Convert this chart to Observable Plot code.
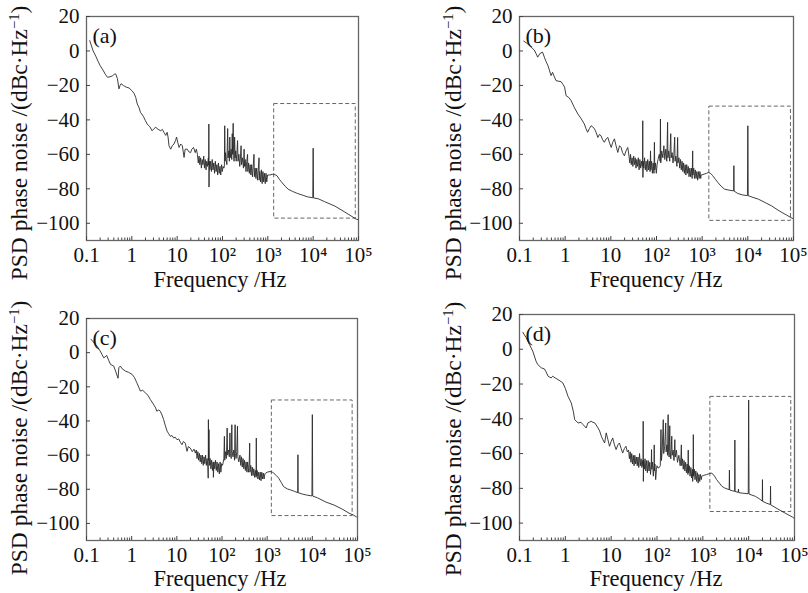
<!DOCTYPE html>
<html><head><meta charset="utf-8">
<script src="https://cdn.jsdelivr.net/npm/d3@7"></script>
<script src="https://cdn.jsdelivr.net/npm/@observablehq/plot@0.6"></script>
<style>
body{margin:0;background:#fff;}
#chart{position:relative;width:808px;height:593px;background:#fff;overflow:hidden;}
#chart svg{position:absolute;font-family:"Liberation Serif","DejaVu Serif",serif !important;}
#chart svg text{font-family:"Liberation Serif","DejaVu Serif",serif !important;}
.ttl{position:absolute;white-space:nowrap;font-family:"Liberation Serif","DejaVu Serif",serif;color:#111;line-height:0.8;transform:translate(-50%,-50%);}
.ttl.rot{transform:translate(-50%,-50%) rotate(-90deg);}
.ttl sup{font-size:0.62em;vertical-align:0.5em;line-height:0;}
</style></head><body><div id="chart"></div>
<script>
// ---- tick labels & texts ----
const xTickValues = [0.1, 1, 10, 100, 1000, 10000, 100000];
const xTickLabels = ["0.1", "1", "10", "10²", "10³", "10⁴", "10⁵"];
const yTickValues = [-100, -80, -60, -40, -20, 0, 20];
const panelLabels = ["(a)", "(b)", "(c)", "(d)"];
const xTitle = "Frequency /Hz";
const yTitleMain = "PSD phase noise /(dBc·Hz";
const yTitleSup = "−1";
const yTitleEnd = ")";

// ---- series: [frequency Hz, PSD dBc/Hz] ----
const seriesA = [
[0.118,6],[0.14,0],[0.16,-3],[0.18,-6],[0.2,-8.5],[0.23,-11],[0.26,-13.5],[0.29,-15.3],[0.33,-15],[0.37,-14.5],[0.41,-13.5],[0.44,-13.3],[0.48,-16],[0.52,-22],[0.55,-20],[0.58,-19],[0.65,-20],[0.75,-21],[0.87,-21.5],[1.0,-23],[1.12,-24.6],[1.22,-27],[1.32,-30.8],[1.45,-33],[1.55,-35.6],[1.8,-38],[2.0,-40.5],[2.18,-42.4],[2.5,-44],[2.8,-46.3],[3.1,-45],[3.37,-44.3],[3.8,-45.5],[4.35,-46.3],[4.7,-45.5],[5.1,-47.2],[5.6,-49],[6.0,-47.2],[6.3,-50],[6.6,-55],[7.2,-57],[7.8,-55],[8.5,-54],[9.2,-52],[9.7,-50],[10.3,-53],[11,-56],[12,-54],[13,-55],[14.2,-61.8],[15,-57],[16.7,-57],[18,-58.5],[19.8,-59],[21,-57],[23,-56],[25,-59],[26.5,-57],
[28,-60],[29.2,-65],[30.4,-61],[31.6,-66],[32.9,-62],[34.2,-68],[35.6,-63],[37,-66],[38.5,-61],[40,-68],[41.6,-63],[43.3,-69],[45,-64],[46.8,-67],[48.7,-62],[49.6,-66],[50,-42.4],[50.4,-79],[51,-64],[52.7,-69],[54.8,-64],[57,-70],[59.3,-63],[61.7,-69],[64.2,-65],[66.8,-71],[69.5,-64],[72.3,-70],[75.2,-66],[78.2,-72],[81.3,-65],[84.6,-71],[88,-67],[91.5,-72],[95.2,-66],[99,-70],[103,-67],[107,-68],[110,-67],
[112,-43.4],[114,-64],[117,-59],[120,-63],[125,-66],[130,-45],[133,-62],[138,-58],[142,-64],[145,-50],[148,-62],[155,-57],[160,-63],[164,-48],[167,-60],[172,-42],[175,-58],[180,-64],[185,-50],[190,-62],[195,-58],[200,-64],[207,-60],[215,-52],[220,-64],[230,-60],[240,-67],[250,-61],[257,-55],[262,-66],[275,-62],[290,-68],
[300,-57],[305,-67],[317,-63],[330,-70],[343,-64],[357,-60],[362,-70],[376,-65],[391,-71],[407,-66],[423,-72],[440,-66],[458,-73],[476,-67],[495,-60],[505,-73],[525,-68],[546,-74],[568,-68],[591,-75],[615,-69],[640,-62],[645,-75],[665,-70],[692,-76],[720,-69],[749,-77],[779,-70],[810,-76],[842,-71],[876,-77],[911,-71],[947,-76],[985,-72],
[1100,-72],[1250,-71.6],[1380,-71.5],[1600,-72.5],[1800,-74.5],[2000,-76],[2400,-78.5],[2800,-80.2],[3500,-81.5],[4500,-82.7],[6000,-83.8],[7600,-84.7],[9800,-85.2],[10000,-56.4],[10200,-85.3],[13000,-85.8],[18000,-87.5],[30000,-90],[50000,-93.5],[89000,-97.6],[100000,-98]
];
const seriesB = [
[0.124,5.7],[0.145,4.5],[0.166,3.1],[0.19,1.5],[0.21,0.6],[0.23,-1.5],[0.25,-3.6],[0.28,-1.5],[0.32,-0.7],[0.35,-3.6],[0.38,-6],[0.42,-8.5],[0.45,-11],[0.49,-14.3],[0.53,-12.4],[0.58,-15],[0.63,-17.2],[0.7,-17.5],[0.81,-17.8],[0.9,-19.5],[0.97,-21],[1.05,-26],[1.2,-27],[1.35,-28.8],[1.6,-33],[1.9,-36.6],[2.2,-39],[2.63,-42.4],[2.85,-45],[3.1,-47.2],[3.4,-45],[3.7,-43.4],[4.0,-44],[4.4,-45.3],[4.8,-47.5],[5.2,-50.2],[5.6,-48.5],[6.1,-49.2],[6.6,-51.5],[7.2,-53],[7.9,-51],[8.6,-50.2],[9.4,-53.5],[10.2,-56],[11,-53],[12,-51],[13,-55],[14.2,-58.9],[15.5,-55],[16.8,-56],[18,-59],[19.8,-60.8],[21.5,-58],[23.5,-56],
[25,-61],[26,-65],[27,-60],[28,-66],[29.2,-62],[30.4,-67],[31.6,-61],[32.9,-66],[34.2,-62],[35.6,-68],[37,-63],[38.5,-67],[40,-62],[41.6,-69],[43.3,-63],[45,-68],[46.8,-64],[48.7,-67],[49.6,-63],[50,-40.5],[50.4,-73.4],[51,-64],[52.7,-68],[54.8,-62],[57,-69],[59.3,-64],[61.7,-70],[64.2,-63],[66.8,-69],[69.5,-64],[72.3,-70],[74,-58],[75.2,-69],[78.2,-64],[81.3,-71],[84.6,-65],[88,-71],[90,-53],[91.5,-69],[95.2,-65],[99,-71],[103,-66],
[108,-63],[115,-60],[120,-64],[122,-39.5],[124,-65],[130,-58],[138,-62],[145,-55],[152,-63],[160,-57],[168,-64],[175,-41.4],[178,-62],[185,-58],[195,-64],[205,-48],[210,-62],[220,-59],[230,-65],[240,-60],[250,-50],[255,-64],[265,-61],[280,-67],[290,-50.2],[295,-65],
[310,-62],[322,-68],[335,-63],[349,-69],[363,-64],[377,-70],[392,-65],[408,-71],[424,-66],[441,-72],[459,-66],[477,-71],[496,-67],[516,-73],[537,-68],[558,-73],[581,-68],[604,-74],[620,-58],[628,-72],[653,-68],[679,-74],[706,-69],[735,-74],[764,-70],[795,-75],[826,-70],[859,-74],[894,-70],[930,-74],[950,-72],
[1100,-71.5],[1250,-71],[1400,-70.5],[1550,-71.2],[1700,-72.4],[1950,-74.5],[2200,-76.3],[2600,-78.5],[3100,-80.2],[3900,-80.8],[4900,-81.2],[4950,-66.6],[5000,-81.3],[6000,-82.7],[7500,-83.5],[9800,-84],[10000,-43.4],[10200,-84],[13000,-85],[17000,-86],[24000,-88],[33000,-89.9],[50000,-93],[70000,-95.2],[88000,-96.7],[100000,-97.5]
];
const seriesC = [
[0.126,7.8],[0.15,5.5],[0.17,3.9],[0.2,1],[0.22,-1],[0.24,-3],[0.26,-2.5],[0.28,-1.6],[0.31,-4.5],[0.34,-6.9],[0.4,-7.8],[0.44,-10.8],[0.48,-13.7],[0.5,-15],[0.52,-8.8],[0.56,-7.8],[0.62,-9.5],[0.73,-10.8],[0.85,-11.5],[1.02,-12.7],[1.15,-14.5],[1.3,-17.6],[1.45,-20.5],[1.56,-22.5],[1.75,-22],[2.0,-23.5],[2.3,-25],[2.6,-27.5],[3.0,-30],[3.4,-32.4],[3.6,-34.3],[4.0,-33.5],[4.3,-34.3],[4.7,-36.5],[5.1,-39.2],[5.6,-43],[6.1,-46],[6.6,-47.5],[7.2,-49],[7.8,-48.5],[8.5,-50],[9.2,-49.5],[10.1,-51],[11,-50.5],[12,-52.5],[13,-53.9],[14,-52],[15.4,-53],[16.8,-57.8],[18,-55],[19.9,-55.9],[22,-58],[24,-56.5],[25.7,-58.8],
[27,-57],[28,-62],[29.2,-58],[30.4,-63],[31.6,-59],[32.9,-64],[34.2,-60],[35.6,-65],[37,-60],[38.5,-66],[40,-61],[41.6,-65],[43.3,-60],[45,-66],[46.8,-62],[48.7,-67],[49.5,-73.5],[50,-39.2],[50.5,-63],[51.5,-45.1],[52.5,-66],[54.6,-62],[56.8,-68],[59,-63],[61.4,-69],[63.9,-64],[64.5,-73],[66.4,-64],[69,-68],[71.8,-63],[74.7,-69],[77.7,-64],[80.8,-70],[84,-65],[87.4,-71],[90.9,-64],[94.5,-70],[98.3,-65],[102,-66],
[105,-65],[110,-62],[113,-49],[115,-63],[120,-58],[125,-62],[130,-44.1],[133,-60],[140,-57],[145,-61],[150,-47],[153,-59],[160,-62],[165,-42.2],[168,-58],[175,-61],[182,-57],[190,-63],[195,-42.2],[198,-59],[205,-62],[212,-58],[220,-43],[224,-61],[235,-64],
[250,-60],[260,-66],[270,-61],[281,-67],[292,-62],[304,-68],[316,-63],[329,-69],[342,-64],[356,-70],[370,-64],[385,-70],[400,-65],[410,-53],[416,-70],[433,-66],[450,-72],[468,-67],[487,-72],[506,-68],[526,-73],[547,-69],[569,-73],[575,-50],[580,-72],[600,-69],[624,-74],[649,-70],[675,-74.5],[702,-70],[730,-75],[759,-70],[789,-74],[821,-70.5],[854,-74],[888,-71],[920,-70.6],
[1000,-70],[1160,-69.6],[1300,-70],[1400,-70.6],[1600,-72],[1800,-73.5],[2050,-76],[2300,-78.4],[2800,-79.8],[3300,-80.4],[4000,-81.2],[4750,-82],[4800,-59.8],[4850,-82],[6000,-82.8],[7500,-83.4],[9800,-83.9],[10000,-36.3],[10200,-84],[13000,-85],[20000,-87.5],[30000,-89.2],[45000,-91.5],[65000,-94],[81000,-95.1],[95000,-96.2]
];
const seriesD = [
[0.118,9.8],[0.14,6.6],[0.165,2.7],[0.195,-1.1],[0.23,-6.9],[0.25,-8.8],[0.3,-10.7],[0.35,-11.3],[0.38,-13],[0.42,-15.5],[0.49,-16.5],[0.53,-15.5],[0.6,-16.5],[0.69,-17.4],[0.88,-19.3],[1.0,-22.5],[1.14,-27],[1.35,-30.9],[1.5,-36],[1.6,-40.5],[1.9,-42.4],[2.2,-42],[2.43,-43.3],[2.85,-45.3],[3.1,-42.4],[3.67,-41.4],[4.0,-42],[4.4,-42.4],[5.2,-45.3],[5.6,-47],[6.1,-50],[6.6,-52],[7.2,-53.9],[7.8,-48.1],[8.5,-52],[9.2,-55.8],[10,-53],[10.8,-51],[11.8,-55],[12.8,-57.7],[14,-55],[15.1,-53.9],[16.5,-57],[17.8,-59.7],[19.5,-57],[21,-55.8],[22.5,-59],
[24,-58],[25,-63],[26,-59],[27,-65],[28.1,-60],[29.2,-66],[30.4,-61],[31.6,-67],[32.9,-61],[34.2,-66],[35.6,-62],[37,-67],[38.5,-62],[40,-68],[41.6,-60],[43.3,-67],[45,-63],[46.8,-68],[48.7,-64],[49.6,-67],[50,-41.4],[50.4,-76],[51,-64],[52.7,-69],[54.8,-63],[57,-70],[59.3,-64],[61.7,-71],[64.2,-64],[66.8,-70],[69.5,-65],[72.3,-72],[75,-66],[76,-57.7],[77,-69],[80,-65],[83.2,-73],[86.5,-66],[87,-55],[87.5,-70],[90,-66],[93.6,-75],[97.3,-69],[100,-67],
[105,-68.3],[112,-68],[118,-67],[122,-46.2],[125,-64],[130,-58],[137,-40.5],[140,-60],[147,-56],[155,-42.4],[158,-59],[165,-55],[170,-61],[175,-37.6],[178,-58],[184,-62],[190,-44],[193,-58],[200,-63],[210,-50],[214,-61],[225,-58],[235,-64],[245,-52],[250,-62],[265,-58],[280,-65],[300,-61],
[320,-67],[333,-62],[340,-55],[346,-67],[360,-63],[374,-69],[389,-64],[405,-70],[421,-65],[438,-71],[455,-66],[473,-72],[480,-58],[487,-71],[506,-67],[527,-73],[548,-68],[570,-74],[592,-69],[600,-76],[616,-70],[620,-49.1],[625,-73],[650,-69],[676,-75],[703,-70],[731,-76],[760,-71],[790,-77],[822,-72],[855,-76],[889,-72],[925,-75],[950,-73],
[1050,-72.5],[1200,-72.1],[1400,-71.5],[1570,-71.2],[1800,-73],[2000,-75],[2300,-77],[2600,-78.8],[3000,-79.8],[3750,-80.8],[3800,-69.5],[3850,-80.9],[4400,-81.4],[4950,-81.7],[5000,-52.2],[5050,-81.8],[5900,-82.3],[6000,-80.4],[6100,-82.5],[7500,-82.8],[9800,-83.1],[10000,-29.2],[10200,-83.3],[14000,-84.6],[17000,-86],[19800,-87.3],[20000,-75],[20200,-87.5],[25000,-88.6],[29700,-89.3],[30000,-78.7],[30300,-89.5],[46000,-92.3],[65000,-94.5],[90000,-96.5],[98000,-97.2]
];

// dashed zoom boxes [f1, f2, psd1, psd2]
const boxA = [1380, 87000, -97.3, -30.8];
const boxB = [1435, 88000, -98.6, -32.3];
const boxC = [1270, 78000, -95.7, -28];
const boxD = [1460, 85000, -93.6, -27.4];

// ---- layout ----
const layouts = [
  {left: 0,   top: 0,   h: 296, ml: 86,  mr: 46, mt: 16, mb: 56, xt: [220, 280], yt: [19, 143]},
  {left: 404, top: 0,   h: 296, ml: 115, mr: 15, mt: 16, mb: 56, xt: [656, 280], yt: [453, 143]},
  {left: 0,   top: 296, h: 297, ml: 86,  mr: 47, mt: 22, mb: 53, xt: [220, 579], yt: [19, 438]},
  {left: 404, top: 296, h: 297, ml: 115, mr: 14, mt: 18, mb: 53, xt: [656, 579], yt: [453, 439]}
];
const allSeries = [seriesA, seriesB, seriesC, seriesD];
const allBoxes = [boxA, boxB, boxC, boxD];

const minorTicks = [];
for (let e = -1; e < 5; e++) for (let k = 2; k < 10; k++) minorTicks.push(k * Math.pow(10, e));

const font = "Liberation Serif, DejaVu Serif, serif";
const chart = document.getElementById("chart");

allSeries.forEach((series, i) => {
  const L = layouts[i];
  const b = allBoxes[i];
  const svg = Plot.plot({
    width: 404, height: L.h,
    marginLeft: L.ml, marginRight: L.mr, marginTop: L.mt, marginBottom: L.mb,
    x: {type: "log", domain: [0.1, 1e5]},
    y: {domain: [-110, 20]},
    style: {fontFamily: font, fontSize: "21px", color: "#111", background: "transparent", overflow: "visible"},
    marks: [
      Plot.rect([b], {x1: d => d[0], x2: d => d[1], y1: d => d[2], y2: d => d[3], fill: "none", stroke: "#666", strokeWidth: 1, strokeDasharray: "4,2.5"}),
      Plot.line(series, {x: d => d[0], y: d => d[1], stroke: "#2a2a2a", strokeWidth: 0.9}),
      Plot.frame({stroke: "#666", strokeWidth: 1.3}),
      Plot.axisX(xTickValues, {tickSize: -4, tickPadding: 11, tickFormat: d => xTickLabels[xTickValues.indexOf(d)], label: null, stroke: "#444"}),
      Plot.axisX(minorTicks, {tickSize: -2.5, tickFormat: () => "", label: null, stroke: "#444"}),
      Plot.axisY(yTickValues, {tickSize: -4, tickPadding: 11, label: null, stroke: "#444"}),
      Plot.text([panelLabels[i]], {frameAnchor: "top-left", dx: 6, dy: 19, textAnchor: "start", lineAnchor: "middle", fontSize: 22, fill: "#111"})
    ]
  });
  svg.style.left = L.left + "px";
  svg.style.top = L.top + "px";
  chart.appendChild(svg);

  const xt = document.createElement("div");
  xt.className = "ttl";
  xt.style.fontSize = "22.5px";
  xt.style.left = L.xt[0] + "px";
  xt.style.top = L.xt[1] + "px";
  xt.textContent = xTitle;
  chart.appendChild(xt);

  const yt = document.createElement("div");
  yt.className = "ttl rot";
  yt.style.fontSize = "23.5px";
  yt.style.left = L.yt[0] + "px";
  yt.style.top = L.yt[1] + "px";
  yt.appendChild(document.createTextNode(yTitleMain));
  const sup = document.createElement("sup");
  sup.textContent = yTitleSup;
  yt.appendChild(sup);
  yt.appendChild(document.createTextNode(yTitleEnd));
  chart.appendChild(yt);
});
</script>
</body></html>
